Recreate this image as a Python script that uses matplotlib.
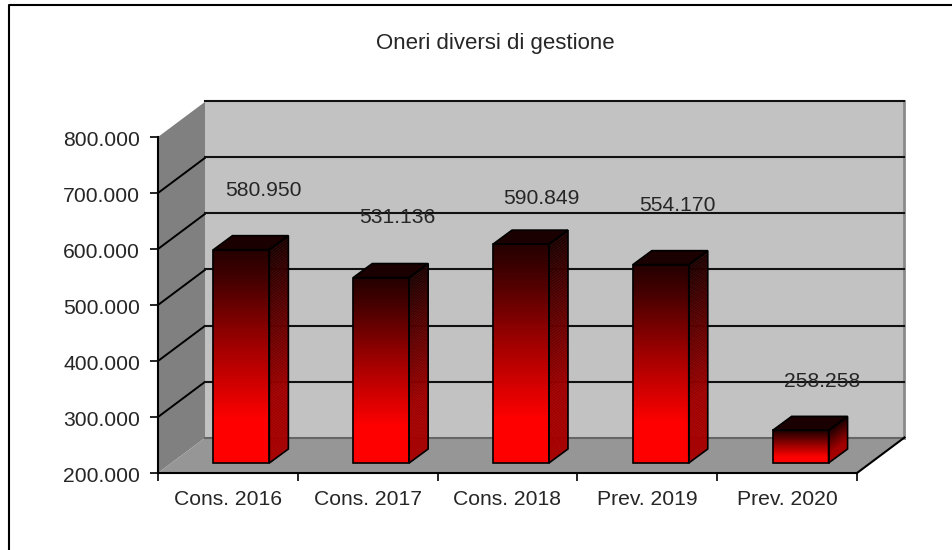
import matplotlib
matplotlib.use("Agg")
import matplotlib.pyplot as plt
import numpy as np
from matplotlib.collections import PolyCollection
from matplotlib.colors import LinearSegmentedColormap
from matplotlib.lines import Line2D
from matplotlib.patches import Polygon
from matplotlib.transforms import Affine2D

plt.rcParams['font.family'] = ['Liberation Sans', 'DejaVu Sans']

# data
categories = ['Cons. 2016', 'Cons. 2017', 'Cons. 2018', 'Prev. 2019', 'Prev. 2020']
values = [580950, 531136, 590849, 554170, 258258]
value_labels = ['580.950', '531.136', '590.849', '554.170', '258.258']
y_ticks = [200000, 300000, 400000, 500000, 600000, 700000, 800000]
y_tick_labels = ['200.000', '300.000', '400.000', '500.000', '600.000', '700.000', '800.000']
title = 'Oneri diversi di gestione'

# layout (pixels)
W, H = 953, 550
L, R, T, B = 158, 857, 137, 473
DEPTH = (47.5, 35.5)          # chart depth
BAR_FRONT = (13.5, 10)        # bar front-face offset from the front plane
BAR_DEPTH = (19, 14)          # bar depth
BAR_WIDTH = 0.40
LABEL_OFFSETS = [(22, 59.5), (16, 60), (20, 46), (17, 59.5), (22, 48.5)]
TXT = '#262626'
FS = 15.2

fig = plt.figure(figsize=(W / 100, H / 100), dpi=100, facecolor='white')
ax = fig.add_axes([L / W, 1 - B / H, (R - L) / W, (B - T) / H])
ax.set_xlim(0, len(categories))
ax.set_ylim(y_ticks[0], y_ticks[-1])
ax.patch.set_visible(False)


def shifted(dx, dy):
    return ax.transData + Affine2D().translate(dx, dy)


x0, x1 = ax.get_xlim()
y0, y1 = ax.get_ylim()
back = shifted(*DEPTH)

dx_data = DEPTH[0] / (R - L) * (x1 - x0)
dy_data = DEPTH[1] / (B - T) * (y1 - y0)
ax.add_patch(Polygon([(x0, y0), (x0, y1), (x0 + dx_data, y1 + dy_data), (x0 + dx_data, y0 + dy_data)],
                     closed=True, fc='#808080', ec='none', clip_on=False, zorder=1))
ax.add_patch(Polygon([(x0, y0), (x1, y0), (x1 + dx_data, y0 + dy_data), (x0 + dx_data, y0 + dy_data)],
                     closed=True, fc='#969696', ec='none', clip_on=False, zorder=1))
ax.add_patch(Polygon([(x0, y0), (x1, y0), (x1, y1), (x0, y1)], closed=True, fc='#c2c2c2', ec='none',
                     clip_on=False, zorder=1, transform=back))
# wall edges
ax.plot([x1, x1], [y0, y1], color='#8a8a8a', lw=2, transform=back, clip_on=False, zorder=1.5)
ax.plot([x0, x1], [y0, y0], color='#666666', lw=1.5, transform=back, clip_on=False, zorder=1.5)
ax.plot([x1, x1 + dx_data], [y0, y0 + dy_data], color='black', lw=1.5, clip_on=False, zorder=2)

# gridlines (the top one has no segment across the side wall)
for t in y_ticks[1:]:
    if t != y_ticks[-1]:
        ax.plot([x0, x0 + dx_data], [t, t + dy_data], color='black', lw=1.4, clip_on=False, zorder=2,
                solid_capstyle='butt')
    ax.plot([x0, x1], [t, t], color='#111111', lw=1.5, transform=back, clip_on=False, zorder=2)

# gradient colours, bottom to top
front_cmap = LinearSegmentedColormap.from_list('f', [(0, '#ff0000'), (0.2, '#ff0000'), (0.55, '#a00000'),
                                                     (0.85, '#480000'), (1, '#240000')])
side_cmap = LinearSegmentedColormap.from_list('s', [(0, '#a80000'), (0.3, '#a00000'), (0.65, '#600000'),
                                                    (1, '#1c0000')])
N = 80
base = y0
px_x = (x1 - x0) / (R - L)
px_y = (y1 - y0) / (B - T)
for i, v in enumerate(values):
    off_x = BAR_FRONT[0] * px_x
    off_y = BAR_FRONT[1] * px_y
    dx = BAR_DEPTH[0] * px_x
    dy = BAR_DEPTH[1] * px_y
    xl = i + 0.5 - BAR_WIDTH / 2 + off_x
    xr = i + 0.5 + BAR_WIDTH / 2 + off_x
    yb = base + off_y
    yt = v + off_y
    z = 3 + i
    levels = np.linspace(yb, yt, N + 1)
    t = (np.arange(N) + 0.5) / N
    front = [[(xl, a), (xr, a), (xr, b), (xl, b)] for a, b in zip(levels[:-1], levels[1:])]
    side = [[(xr, a), (xr + dx, a + dy), (xr + dx, b + dy), (xr, b)] for a, b in zip(levels[:-1], levels[1:])]
    ax.add_collection(PolyCollection(front, facecolors=front_cmap(t), edgecolors=front_cmap(t), linewidths=0.3,
                                     clip_on=False, zorder=z), autolim=False)
    ax.add_collection(PolyCollection(side, facecolors=side_cmap(t), edgecolors=side_cmap(t), linewidths=0.3,
                                     clip_on=False, zorder=z), autolim=False)
    top = [(xl, yt), (xr, yt), (xr + dx, yt + dy), (xl + dx, yt + dy)]
    ax.add_patch(Polygon(top, closed=True, fc='#1a0000', ec='black', lw=1.2, clip_on=False, zorder=z + 0.2))
    ax.add_patch(Polygon([(xl, yb), (xr, yb), (xr, yt), (xl, yt)], closed=True, fc='none', ec='black', lw=1.2,
                         clip_on=False, zorder=z + 0.2))
    ax.add_patch(Polygon([(xr, yb), (xr + dx, yb + dy), (xr + dx, yt + dy), (xr, yt)], closed=True, fc='none',
                         ec='black', lw=1.2, clip_on=False, zorder=z + 0.2))

# value labels
for i, (v, lab) in enumerate(zip(values, value_labels)):
    ox, oy = LABEL_OFFSETS[i]
    ax.text(i + 0.5, v, lab, transform=shifted(BAR_FRONT[0] + ox, BAR_FRONT[1] + oy),
            ha='center', va='center', fontsize=FS, color=TXT, zorder=20, clip_on=False)

# axes
for s in ['top', 'right']:
    ax.spines[s].set_visible(False)
for s in ['left', 'bottom']:
    ax.spines[s].set_linewidth(1.5)
    ax.spines[s].set_zorder(15)
ax.set_yticks(y_ticks)
ax.set_yticklabels(y_tick_labels, fontsize=FS, color=TXT)
ax.set_xticks(np.arange(len(categories) + 1))
ax.set_xticklabels([])
ax.set_xticks(np.arange(len(categories)) + 0.5, minor=True)
ax.set_xticklabels(categories, minor=True, fontsize=FS, color=TXT)
ax.tick_params(axis='both', which='major', length=5.5, width=1.2, color='black')
ax.tick_params(axis='y', pad=7.5)
ax.tick_params(axis='x', which='minor', length=0, pad=12.5)
for lab in ax.get_yticklabels():
    lab.set_transform(lab.get_transform() + Affine2D().translate(0, -1.5))

# title and outer frame
fig.text(495.5 / W, 1 - 43 / H, title, ha='center', va='center', fontsize=16, color=TXT)
fig.add_artist(Line2D([9 / W, 9 / W, 1], [0, 1 - 5 / H, 1 - 5 / H], color='black', lw=1.5))

fig.savefig('out.png', dpi=100)
